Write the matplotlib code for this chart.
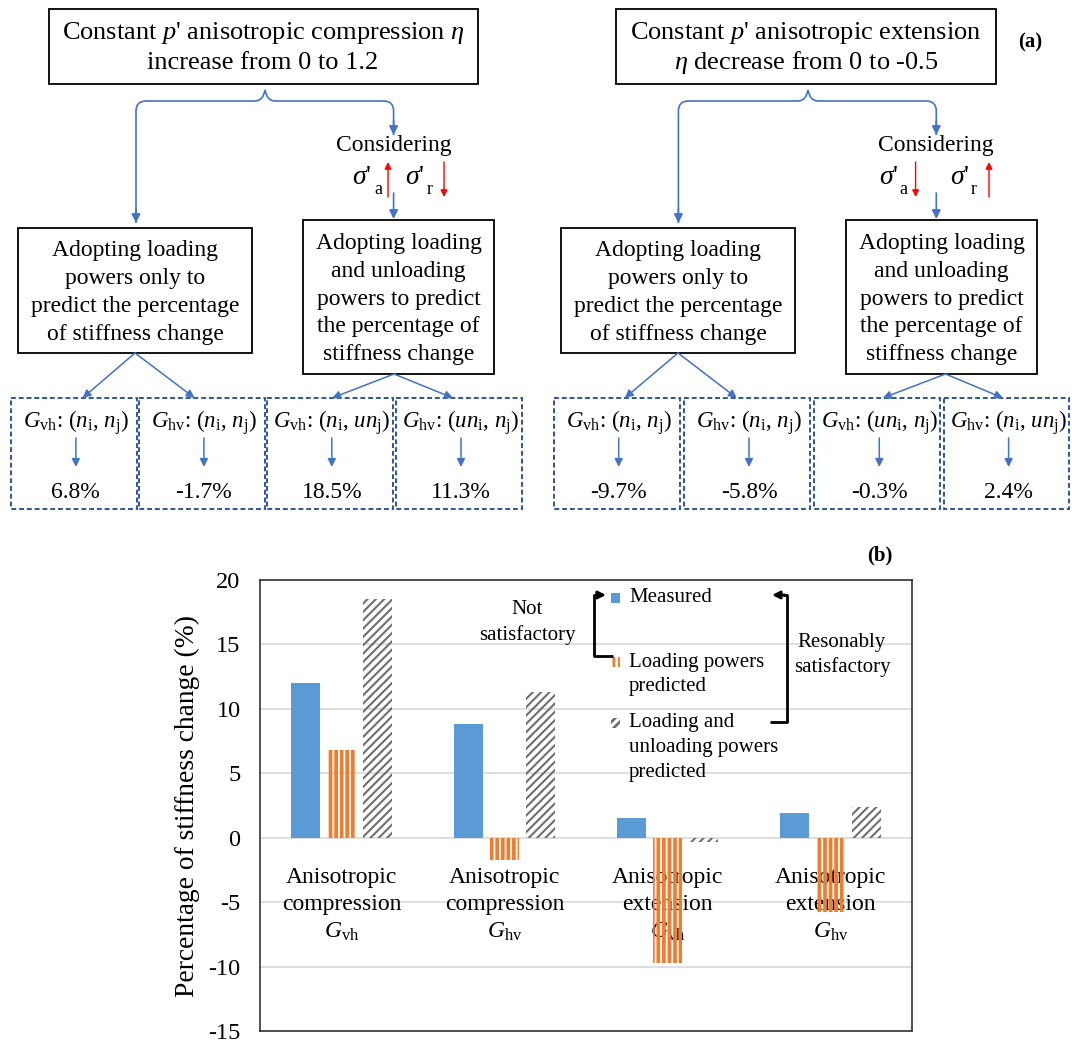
import numpy as np
import matplotlib
matplotlib.use('Agg')
import matplotlib.pyplot as plt
from matplotlib.patches import Rectangle, PathPatch
from matplotlib.path import Path

plt.rcParams['font.family'] = ['Liberation Serif', 'DejaVu Serif']
plt.rcParams['mathtext.fontset'] = 'custom'
plt.rcParams['mathtext.rm'] = 'Liberation Serif'
plt.rcParams['mathtext.it'] = 'Liberation Serif:italic'
plt.rcParams['mathtext.bf'] = 'Liberation Serif:bold'
plt.rcParams['axes.unicode_minus'] = False
plt.rcParams['hatch.linewidth'] = 2.0

# ---- data (panel b) ----
cat_line1 = ['Anisotropic', 'Anisotropic', 'Anisotropic', 'Anisotropic']
cat_line2 = ['compression', 'compression', 'extension', 'extension']
cat_mod = ['vh', 'hv', 'vh', 'hv']
measured = [12.0, 8.8, 1.5, 1.9]
loading = [6.8, -1.7, -9.7, -5.8]
load_unload = [18.5, 11.3, -0.3, 2.4]
series_names = [['Measured'],
                ['Loading powers', 'predicted'],
                ['Loading and', 'unloading powers', 'predicted']]

# ---- data (panel a) ----
comp_title = ["Constant $p$' anisotropic compression $\\eta$", "increase from 0 to 1.2"]
ext_title = ["Constant $p$' anisotropic extension", "$\\eta$ decrease from 0 to -0.5"]
left_text = "Adopting loading\npowers only to\npredict the percentage\nof stiffness change"
right_text = "Adopting loading\nand unloading\npowers to predict\nthe percentage of\nstiffness change"
comp_pairs = [('vh', '', ''), ('hv', '', ''), ('vh', '', 'u'), ('hv', 'u', '')]
ext_pairs = [('vh', '', ''), ('hv', '', ''), ('vh', 'u', ''), ('hv', '', 'u')]
comp_values = [loading[0], loading[1], load_unload[0], load_unload[1]]
ext_values = [loading[2], loading[3], load_unload[2], load_unload[3]]
comp_arrows = [True, False]   # sigma'_a up, sigma'_r down
ext_arrows = [False, True]

BLUE = '#4472C4'
DASH = '#2F5597'
C_MEAS = '#5B9BD5'
C_LOAD = '#ED7D31'
C_LU = '#6E6E6E'

fig = plt.figure(figsize=(10.72, 10.43), dpi=100)

# ---------------- panel (b): bar chart ----------------
ax = fig.add_axes([0.2425, 0.0115, 0.6082, 0.4324])
x = np.arange(len(measured))
w = 0.18
off = 0.22
b1 = ax.bar(x - off, measured, w, color=C_MEAS, zorder=3)
b2 = ax.bar(x, loading, w, facecolor='none', edgecolor=C_LOAD, hatch='|||', lw=0, zorder=3)
b3 = ax.bar(x + off, load_unload, w, facecolor='none', edgecolor=C_LU, hatch='////', lw=0, zorder=3)
for p in b2:
    try:
        p.set_hatch_linewidth(2.7)
    except AttributeError:
        pass
for p in b3:
    try:
        p.set_hatch_linewidth(1.5)
    except AttributeError:
        pass

ax.set_xlim(-0.5, 3.5)
ax.set_ylim(-15, 20)
ax.set_yticks(range(-15, 21, 5))
ax.set_xticks([])
ax.grid(axis='y', color='#D9D9D9', lw=1.2, zorder=0)
ax.set_axisbelow(True)
ax.tick_params(axis='y', length=0, labelsize=17.5, pad=14)
for s in ax.spines.values():
    s.set_color('#333333')
    s.set_linewidth(1.2)
ax.set_ylabel('Percentage of stiffness change (%)', fontsize=19.8, labelpad=6)

for i in range(len(measured)):
    ax.text(i, -3.1, cat_line1[i], ha='center', va='center', fontsize=17, zorder=2)
    ax.text(i, -5.2, cat_line2[i], ha='center', va='center', fontsize=17, zorder=2)
    ax.text(i, -7.3, '$G_{\\mathrm{%s}}$' % cat_mod[i], ha='center', va='center', fontsize=17, zorder=2)

# ---------------- overlay in pixel coords ----------------
ov = fig.add_axes([0, 0, 1, 1], zorder=10)
ov.set_xlim(0, 1072)
ov.set_ylim(1043, 0)
ov.axis('off')
ov.patch.set_alpha(0)


def arrow(x0, y0, x1, y1, color=BLUE, lw=1.2, ms=13):
    ov.annotate('', xy=(x1, y1), xytext=(x0, y0),
                arrowprops=dict(arrowstyle='-|>', color=color, lw=lw, mutation_scale=ms,
                                shrinkA=0, shrinkB=0))


def box(x0, y0, x1, y1, **kw):
    ov.add_patch(Rectangle((x0, y0), x1 - x0, y1 - y0, fill=False, **kw))


def brace(xl, xc, xr, yl, yr, ytop=90, yh=101, r=10):
    verts = [(xl, yl), (xl, yh + r), (xl, yh), (xl + r, yh), (xc - 10, yh),
             (xc - 2, yh), (xc, ytop), (xc + 2, yh), (xc + 10, yh), (xr - r, yh),
             (xr, yh), (xr, yh + r), (xr, yr)]
    codes = [Path.MOVETO, Path.LINETO, Path.CURVE3, Path.CURVE3, Path.LINETO,
             Path.CURVE3, Path.CURVE3, Path.CURVE3, Path.CURVE3, Path.LINETO,
             Path.CURVE3, Path.CURVE3, Path.LINETO]
    ov.add_patch(PathPatch(Path(verts, codes), fill=False, color=BLUE, lw=1.2))
    arrow(xl, yl - 14, xl, yl)
    arrow(xr, yr - 14, xr, yr)


def g_label(mod, a, b):
    return ('$G_{\\mathrm{%s}}$: ($%sn_{\\mathrm{i}}$, $%sn_{\\mathrm{j}}$)' % (mod, a, b))


def panel(top, title, br, cons_x, sig, ups, mid_l, mid_r, fan_l, fan_r, dboxes, pairs, values):
    box(*top, ec='black', lw=1.3)
    cx = (top[0] + top[2]) / 2
    ov.text(cx, 33, title[0], ha='center', va='center', fontsize=19)
    ov.text(cx, 63, title[1], ha='center', va='center', fontsize=19)
    brace(br[0], br[1], br[2], 223, 135)
    ov.text(cons_x, 146, 'Considering', ha='center', va='center', fontsize=17)
    for (sx, subx, sub, ax_), up in zip(sig, ups):
        ov.text(sx, 178, "$\\sigma$'", ha='center', va='center', fontsize=20)
        ov.text(subx, 189, sub, ha='center', va='center', fontsize=13)
        if up:
            arrow(ax_, 197, ax_, 162, color='red', lw=1.0, ms=10)
        else:
            arrow(ax_, 162, ax_, 197, color='red', lw=1.0, ms=10)
    arrow(cons_x, 193, cons_x, 219)
    box(*mid_l, ec='black', lw=1.3)
    box(*mid_r, ec='black', lw=1.3)
    ov.text((mid_l[0] + mid_l[2]) / 2, (mid_l[1] + mid_l[3]) / 2 + 2, left_text,
            ha='center', va='center', fontsize=17, linespacing=1.42)
    ov.text((mid_r[0] + mid_r[2]) / 2, (mid_r[1] + mid_r[3]) / 2 + 2, right_text,
            ha='center', va='center', fontsize=17, linespacing=1.42)
    for (sx, sy), ends in [fan_l, fan_r]:
        for ex in ends:
            arrow(sx, sy, ex, 398, lw=1.1, ms=12)
    for (bx0, bx1), (mod, a, b), v in zip(dboxes, pairs, values):
        box(bx0, 398, bx1, 509, ec=DASH, lw=1.4, ls=(0, (2.5, 1.5)))
        mx = (bx0 + bx1) / 2 + 2
        ov.text(mx, 423, g_label(mod, a, b), ha='center', va='center', fontsize=16.5)
        arrow(mx, 438, mx, 467, lw=1.1, ms=12)
        ov.text(mx, 492, '%.1f%%' % v, ha='center', va='center', fontsize=17)


panel((48.6, 9, 477.6, 84), comp_title, (136, 265, 393.6), 393.6,
      [(362, 378, 'a', 388), (415, 430, 'r', 444)], comp_arrows,
      (18.3, 228, 252, 353), (303, 220, 494, 374),
      ((135, 353), (82.6, 194.6)), ((394, 374), (332, 453)),
      [(10.7, 137), (138.8, 265), (267, 392.6), (396, 522)], comp_pairs, comp_values)

panel((616.3, 9, 995.7, 84), ext_title, (678.4, 808, 936.3), 936.3,
      [(889, 903, 'a', 915.6), (960, 974, 'r', 989)], ext_arrows,
      (561, 228, 795, 353), (846.4, 220, 1037, 374),
      ((678, 353), (624.8, 736.8)), ((945.5, 374), (882.7, 1003)),
      [(553.6, 679.8), (684.2, 809.8), (814.2, 940.4), (943.8, 1069.4)], ext_pairs, ext_values)

ov.text(1030, 42, '(a)', ha='center', va='center', fontsize=15, fontweight='bold')
ov.text(880, 555, '(b)', ha='center', va='center', fontsize=15, fontweight='bold')

# ---- legend (drawn by hand) ----
leg_y = [598, 662, 723]
swatch = [dict(fc=C_MEAS, ec='none'),
          dict(fc='none', ec=C_LOAD, hatch='|||', lw=0),
          dict(fc='none', ec=C_LU, hatch='////', lw=0)]
for yy, lines, st in zip(leg_y, series_names, swatch):
    ov.add_patch(Rectangle((611, yy - 5), 9, 10, **st))
    for k, ln in enumerate(lines):
        ov.text(629, yy + k * 24.5, ln, ha='left', va='center', fontsize=15)

# brackets
ov.plot([613, 594, 594, 598], [656, 656, 595, 595], color='black', lw=2, solid_capstyle='butt')
arrow(596, 595, 606, 595, color='black', lw=2, ms=11)
ov.plot([770, 787, 787, 783], [722, 722, 595, 595], color='black', lw=2, solid_capstyle='butt')
arrow(785, 595, 772, 595, color='black', lw=2, ms=11)
ov.text(527, 610, 'Not', ha='center', va='center', fontsize=15)
ov.text(527, 635, 'satisfactory', ha='center', va='center', fontsize=15)
ov.text(842, 642, 'Resonably', ha='center', va='center', fontsize=15)
ov.text(842, 667, 'satisfactory', ha='center', va='center', fontsize=15)

fig.savefig('out.png', dpi=100)
